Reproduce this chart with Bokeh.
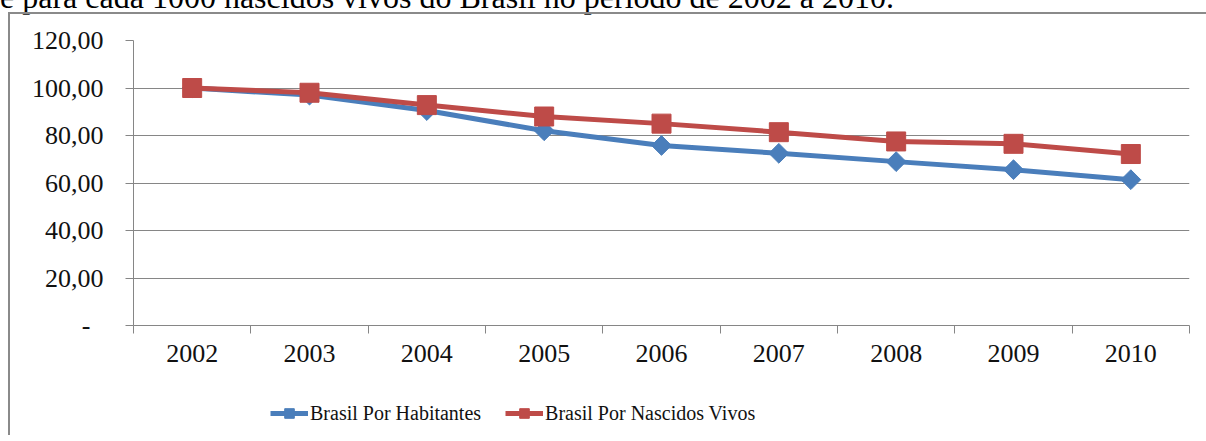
import math
from bokeh.plotting import figure
from bokeh.layouts import column
from bokeh.models import Range1d, FixedTicker, Legend, LegendItem, Div
from bokeh.embed import file_html
from bokeh.resources import INLINE

# ---- data ----
years = ["2002", "2003", "2004", "2005", "2006", "2007", "2008", "2009", "2010"]
por_habitantes = [100.0, 97.0, 90.5, 82.0, 75.8, 72.5, 69.0, 65.6, 61.4]
por_nascidos_vivos = [100.0, 98.0, 92.8, 88.0, 85.0, 81.4, 77.5, 76.5, 72.2]
y_ticks = [0, 20, 40, 60, 80, 100, 120]
y_tick_labels = ["-\u00a0\u00a0", "20,00", "40,00", "60,00", "80,00", "100,00", "120,00"]
series_labels = ["Brasil Por Habitantes", "Brasil Por Nascidos Vivos"]
caption = "e para cada 1000 nascidos vivos do Brasil no período de 2002 a 2010."

BLUE = "#4A7EBB"
RED = "#BE4B48"
GRID = "#868686"
FONT = "Liberation Serif"

xs = [i + 0.5 for i in range(len(years))]
bounds = list(range(len(years) + 1))

# ---- main chart ----
p = figure(width=1196, height=371, output_backend="svg", toolbar_location=None,
           x_range=Range1d(0, len(years)), y_range=Range1d(0, 120),
           min_border_left=123, min_border_right=17,
           min_border_top=26, min_border_bottom=60)
p.outline_line_color = None
p.background_fill_color = "white"
p.border_fill_color = "white"

p.xaxis.ticker = FixedTicker(ticks=xs, minor_ticks=bounds)
p.xaxis.major_label_overrides = {x: y for x, y in zip(xs, years)}
p.xaxis.major_tick_line_color = None
p.xaxis.major_tick_out = 8
p.xaxis.major_tick_in = 0
p.xaxis.minor_tick_line_color = GRID
p.xaxis.minor_tick_out = 8
p.xaxis.minor_tick_in = 0
p.xaxis.axis_line_color = GRID
p.xaxis.major_label_standoff = 11
p.xaxis.major_label_text_font = FONT
p.xaxis.major_label_text_font_size = "26px"
p.xaxis.major_label_text_color = "#111111"

p.yaxis.ticker = FixedTicker(ticks=y_ticks)
p.yaxis.major_label_overrides = {t: s for t, s in zip(y_ticks, y_tick_labels)}
p.yaxis.major_tick_line_color = GRID
p.yaxis.major_tick_out = 8
p.yaxis.major_tick_in = 0
p.yaxis.minor_tick_line_color = None
p.yaxis.axis_line_color = GRID
p.yaxis.major_label_standoff = 22
p.yaxis.major_label_text_font = FONT
p.yaxis.major_label_text_font_size = "26px"
p.yaxis.major_label_text_color = "#111111"

p.xgrid.grid_line_color = None
p.ygrid.ticker = FixedTicker(ticks=y_ticks)
p.ygrid.grid_line_color = GRID
p.ygrid.grid_line_width = 1


def draw_series(fig):
    l1 = fig.line(xs, por_habitantes, line_color=BLUE, line_width=5)
    s1 = fig.scatter(xs, por_habitantes, marker="square", size=14,
                     angle=math.pi / 4, fill_color=BLUE, line_color=BLUE)
    l2 = fig.line(xs, por_nascidos_vivos, line_color=RED, line_width=5)
    s2 = fig.scatter(xs, por_nascidos_vivos, marker="square", size=19,
                     fill_color=RED, line_color=RED)
    return l1, s1, l2, s2


draw_series(p)

# ---- legend strip (series drawn off-range, only the legend shows) ----
leg = figure(width=1196, height=50, output_backend="svg", toolbar_location=None,
             x_range=Range1d(100, 101), y_range=Range1d(1000, 1001),
             x_axis_type=None, y_axis_type=None,
             min_border_left=0, min_border_right=0,
             min_border_top=0, min_border_bottom=0)
leg.outline_line_color = None
leg.grid.grid_line_color = None
leg.background_fill_color = "white"
leg.border_fill_color = "white"
ll1, ls1, ll2, ls2 = draw_series(leg)

legend = Legend(items=[LegendItem(label=series_labels[0], renderers=[ll1, ls1]),
                       LegendItem(label=series_labels[1], renderers=[ll2, ls2])],
                orientation="horizontal", location=(137, 10),
                glyph_width=38, glyph_height=24, label_standoff=2, spacing=24,
                padding=0, margin=0, border_line_color=None,
                background_fill_alpha=0,
                label_text_font=FONT, label_text_font_size="20px",
                label_text_color="#111111")
leg.add_layout(legend)

chart = column(p, leg, spacing=0, margin=(0, 0, 0, 8),
               styles={"border-top": "2px solid #8a8a8a",
                       "border-left": "2px solid #8a8a8a"})

cap = Div(text=caption, width=1200, height=29, margin=(-17, 0, 0, 0),
          styles={"font-family": FONT, "font-size": "32px",
                  "line-height": "29px", "white-space": "nowrap",
                  "color": "#000000"})

page = column(cap, chart, spacing=0)

open("out.html", "w").write(file_html(page, INLINE))
